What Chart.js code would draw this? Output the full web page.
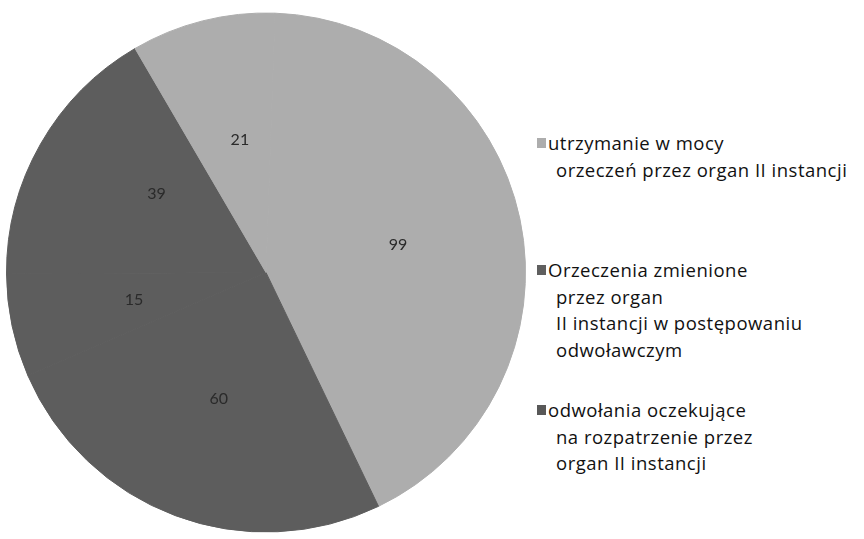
<!DOCTYPE html>
<html lang="pl">
<head>
<meta charset="utf-8">
<script src="https://cdn.jsdelivr.net/npm/chart.js@4"></script>
<style>
  html, body { margin: 0; padding: 0; background: #fff; }
  body { width: 864px; height: 539px; position: relative; overflow: hidden; font-family: "Open Sans", Lato, sans-serif; }
  #wrap { position: absolute; left: 0; top: 0; width: 532px; height: 539px; }
  #legend { position: absolute; left: 537px; top: 0; color: #111; font-size: 18.5px; line-height: 26.7px; letter-spacing: 0.5px; }
  .item { position: absolute; left: 0; white-space: nowrap; }
  .item .sw { position: absolute; left: 0; top: 8px; width: 9px; height: 10px; }
  .item .tx { padding-left: 11px; }
  .item .tx span { display: block; }
  .item .tx span + span { padding-left: 8px; }
</style>
</head>
<body>
<div id="wrap"><canvas id="chart"></canvas></div>
<div id="legend"></div>
<script>
// categories (legend)
const categories = [
  ['utrzymanie w mocy', 'orzeczeń przez organ II instancji'],
  ['Orzeczenia zmienione', 'przez organ', 'II instancji w postępowaniu', 'odwoławczym'],
  ['odwołania oczekujące', 'na rozpatrzenie przez', 'organ II instancji']
];
const categoryColors = ['#adadad', '#5f5f5f', '#585858'];

// slices, clockwise from 12 o'clock
const sliceValues = [99, 60, 15, 39, 21];
const sliceCategory = [0, 2, 1, 1, 0];

const legendTops = [130, 257, 397];

const legendEl = document.getElementById('legend');
categories.forEach((lines, i) => {
  const item = document.createElement('div');
  item.className = 'item';
  item.style.top = legendTops[i] + 'px';
  item.innerHTML = '<div class="sw" style="background:' + categoryColors[i] + '"></div>' +
    '<div class="tx">' + lines.map(l => '<span>' + l + '</span>').join('') + '</div>';
  legendEl.appendChild(item);
});

// the dark half prints as one tone in the original
const sliceFill = sliceCategory.map(c => c === 0 ? categoryColors[0] : '#5d5d5d');

const sliceLabels = {
  id: 'sliceLabels',
  afterDatasetsDraw(chart, args, opts) {
    const ctx = chart.ctx;
    const meta = chart.getDatasetMeta(0);
    ctx.save();
    ctx.font = opts.font;
    ctx.fillStyle = opts.color;
    ctx.textAlign = 'center';
    ctx.textBaseline = 'middle';
    meta.data.forEach((arc, i) => {
      const p = arc.getProps(['x', 'y', 'startAngle', 'endAngle', 'outerRadius']);
      const a = (p.startAngle + p.endAngle) / 2 + (opts.shift[i] || 0) * Math.PI / 180;
      const r = p.outerRadius * opts.radius;
      ctx.fillText(String(chart.data.datasets[0].data[i]), p.x + Math.cos(a) * r, p.y + Math.sin(a) * r);
    });
    ctx.restore();
  }
};

new Chart(document.getElementById('chart'), {
  type: 'pie',
  data: {
    labels: sliceCategory.map(c => categories[c].join(' ')),
    datasets: [{
      data: sliceValues,
      backgroundColor: sliceFill,
      borderColor: sliceFill,
      borderWidth: 1,
      borderJoinStyle: 'round'
    }]
  },
  options: {
    responsive: true,
    maintainAspectRatio: false,
    animation: false,
    rotation: 2,
    layout: { padding: { top: 12, bottom: 6, left: 6, right: 6 } },
    plugins: {
      legend: { display: false },
      tooltip: { enabled: false },
      sliceLabels: { font: '16px Lato, sans-serif', color: '#2a2a2a', radius: 0.52, shift: { 3: 6, 4: 3 } }
    }
  },
  plugins: [sliceLabels]
});
</script>
</body>
</html>
